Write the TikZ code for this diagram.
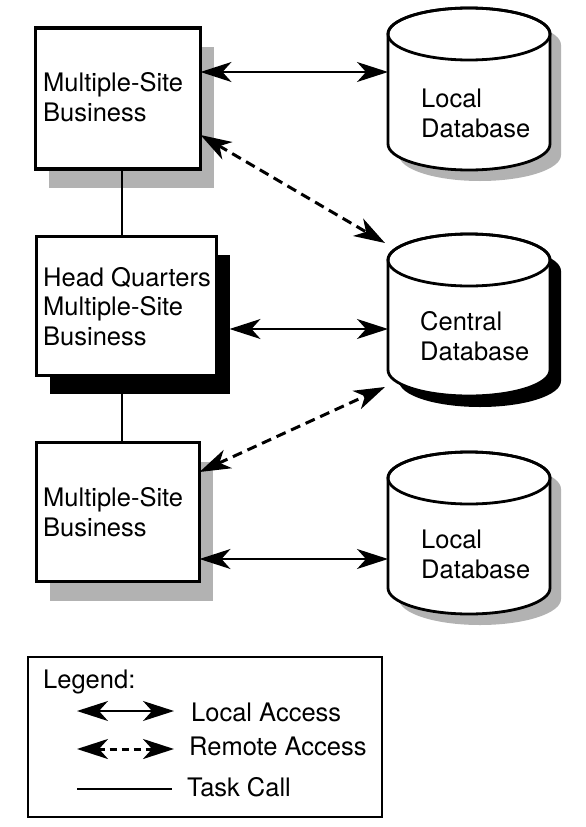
\documentclass[tikz,border=0pt]{standalone}
\usepackage{fontspec}
\setmainfont{TeX Gyre Heros}
\usetikzlibrary{arrows.meta,shadows}

\tikzset{
  sitebox/.style={draw, line width=3.8pt, fill=white, inner sep=0pt, outer sep=0pt},
  greyshadow/.style={drop shadow={shadow xshift=13.5pt, shadow yshift=-19pt, fill=black!30, opacity=1}},
  blackshadow/.style={drop shadow={shadow xshift=13.5pt, shadow yshift=-18pt, fill=black, opacity=1}},
  dbbody/.style={inner sep=0pt, outer sep=0pt, minimum width=162pt, minimum height=110pt},
  lbl/.style={anchor=base west, inner sep=0pt, align=left, font=\fontsize{25.5}{29.5}\selectfont},
  bigtip/.tip={Stealth[length=31pt,width=20pt,inset=9pt]},
  localacc/.style={line width=1.3pt, bigtip-bigtip},
  remoteacc/.style={localacc, line width=3pt, dash pattern=on 10pt off 6pt},
  taskcall/.style={line width=1.3pt}
}

\begin{document}
\begin{tikzpicture}[x=1pt,y=-1pt]
  \useasboundingbox (0,0) rectangle (586,827);

  % sites
  \node[sitebox, greyshadow, minimum width=165pt, minimum height=141pt] (b1) at (118,98.5) {};
  \node[sitebox, blackshadow, minimum width=180pt, minimum height=139pt] (hq) at (126.5,306) {};
  \node[sitebox, greyshadow, minimum width=163pt, minimum height=139pt] (b3) at (118,512) {};

  \node[lbl] (b1txt) at (43,121) {Multiple-Site\\Business};
  \node[lbl] (hqtxt) at (43,345) {Head Quarters\\Multiple-Site\\Business};
  \node[lbl] (b3txt) at (43,536) {Multiple-Site\\Business};

  % databases
  \node[dbbody] (ldbA) at (469,89) {};
  \node[dbbody] (cdb) at (469,315) {};
  \node[dbbody] (ldbB) at (469,533) {};

  \foreach \db/\sc in {ldbA/black!30, cdb/black, ldbB/black!30} {
    \fill[\sc] ([shift={(11,11)}]\db.north west) -- ([shift={(11,11)}]\db.south west)
      arc (180:0:81 and 26) -- ([shift={(11,11)}]\db.north east) arc (0:-180:81 and 26) -- cycle;
    \filldraw[fill=white, line width=2.8pt] (\db.north west) -- (\db.south west)
      arc (180:0:81 and 26) -- (\db.north east) arc (0:-180:81 and 26) -- cycle;
    \draw[line width=2.8pt] (\db.north) ellipse (81 and 26);
  }

  \node[lbl] (ldbAtxt) at (421,137) {Local\\Database};
  \node[lbl] (cdbtxt) at (420,360) {Central\\Database};
  \node[lbl] (ldbBtxt) at (421,578) {Local\\Database};

  % access
  \draw[localacc] ([yshift=26.5pt]b1.east) -- ([yshift=17pt]ldbA.west);
  \draw[remoteacc] ([yshift=-36.5pt]b1.east) -- ([xshift=-3pt,yshift=72pt]cdb.west);
  \draw[localacc] ([xshift=13pt,yshift=-23pt]hq.east) -- ([yshift=-14pt]cdb.west);
  \draw[remoteacc] ([yshift=40pt]b3.east) -- ([xshift=-3pt,yshift=-72pt]cdb.west);
  \draw[localacc] ([yshift=-47pt]b3.east) -- ([yshift=-26pt]ldbB.west);

  % task calls
  \draw[taskcall] ([xshift=4pt]b1.south) -- ([xshift=-4.5pt]hq.north);
  \draw[taskcall] ([xshift=-4.5pt]hq.south) -- ([xshift=4pt]b3.north);

  % legend
  \node[draw, line width=1.3pt, inner sep=0pt, minimum width=354pt, minimum height=160pt] (legend) at (205,737) {};
  \node[lbl] (leghead) at (43,688) {Legend:};
  \node[lbl] (leglocal) at (191,721) {Local Access};
  \node[lbl] (legremote) at (189,755) {Remote Access};
  \node[lbl] (legtask) at (187,796) {Task Call};
  \coordinate (lla) at (77,711);
  \coordinate (llb) at (174,711);
  \coordinate (lra) at (77,749);
  \coordinate (lrb) at (174,749);
  \coordinate (lta) at (77,789);
  \coordinate (ltb) at (172,789);
  \draw[localacc] (lla) -- (llb);
  \draw[remoteacc, dash pattern=on 7pt off 5pt] (lra) -- (lrb);
  \draw[taskcall] (lta) -- (ltb);
\end{tikzpicture}
\end{document}
